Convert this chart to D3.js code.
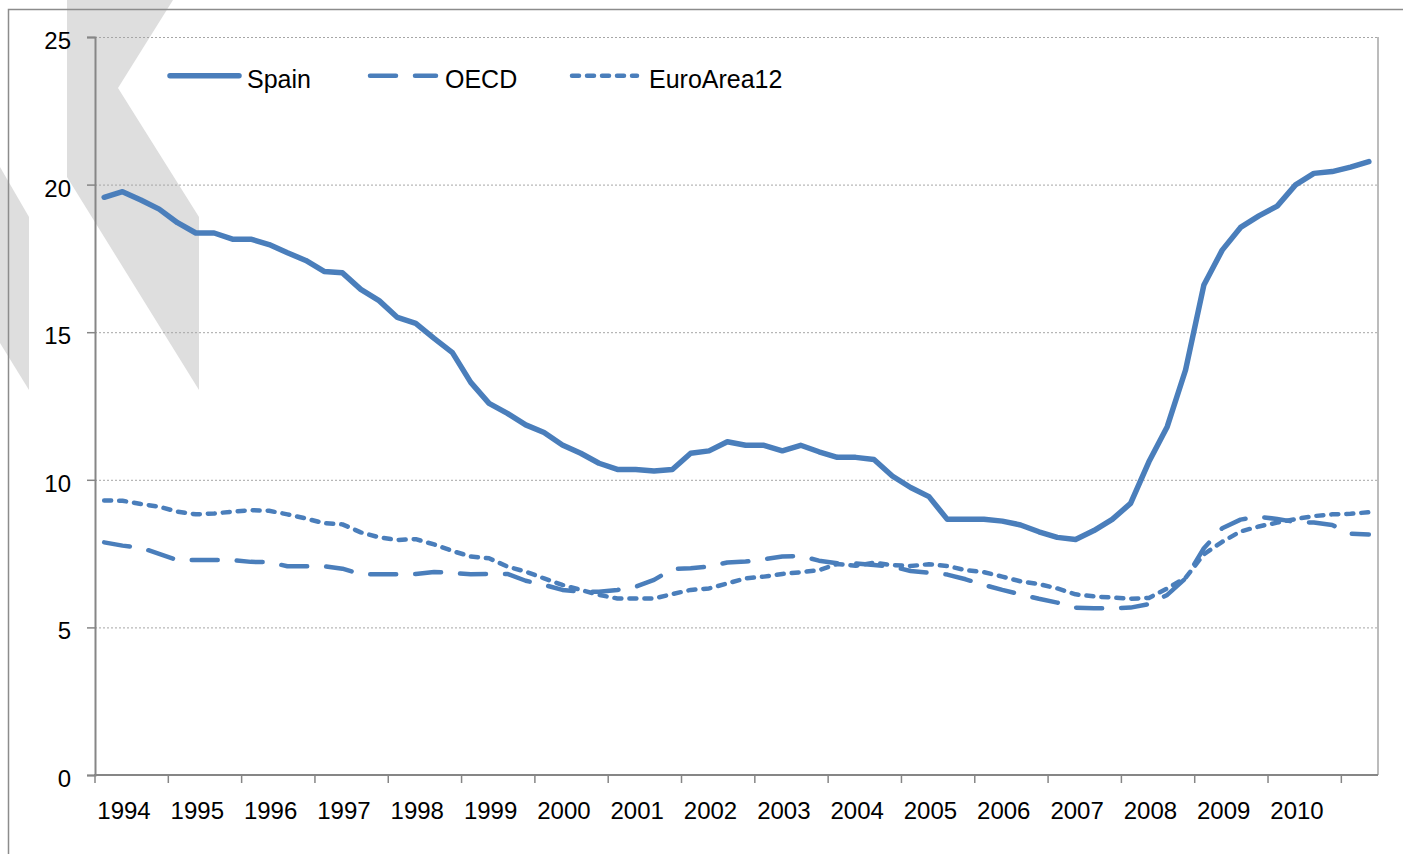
<!DOCTYPE html>
<html>
<head>
<meta charset="utf-8">
<script src="https://cdn.jsdelivr.net/npm/d3@7"></script>
<style>
  body { margin: 0; background: #fff; }
  svg { display: block; font-family: Arial, "Liberation Sans", sans-serif; }
</style>
</head>
<body>
<svg id="chart" width="1403" height="854"></svg>
<script>
// quarterly data, 1994Q1 .. 2011Q2
const firstYear = 1994;
const quarters = d3.range(70).map(i => (firstYear + Math.floor(i / 4)) + "Q" + (i % 4 + 1));
const yearLabels = ["1994","1995","1996","1997","1998","1999","2000","2001","2002",
                    "2003","2004","2005","2006","2007","2008","2009","2010"];
const yTicks = [0, 5, 10, 15, 20, 25];

const spain = [19.57,19.76,19.48,19.17,18.71,18.36,18.36,18.15,18.15,17.97,
               17.69,17.43,17.06,17.01,16.45,16.07,15.50,15.30,14.79,14.31,
               13.30,12.59,12.25,11.86,11.60,11.18,10.90,10.56,10.35,10.35,
               10.30,10.35,10.90,10.98,11.29,11.17,11.17,10.98,11.17,10.95,
               10.76,10.76,10.69,10.13,9.74,9.43,8.66,8.66,8.66,8.60,
               8.47,8.24,8.05,7.98,8.28,8.66,9.20,10.61,11.80,13.72,
               16.60,17.78,18.55,18.94,19.27,19.99,20.38,20.44,20.59,20.78];

const oecd = [7.88,7.77,7.70,7.49,7.28,7.28,7.28,7.28,7.22,7.21,
              7.07,7.07,7.07,6.99,6.80,6.80,6.80,6.81,6.88,6.84,
              6.80,6.81,6.81,6.58,6.44,6.27,6.21,6.21,6.27,6.38,
              6.61,6.98,7.00,7.06,7.20,7.23,7.31,7.40,7.42,7.26,
              7.17,7.17,7.11,7.06,6.91,6.85,6.79,6.63,6.44,6.27,
              6.12,5.97,5.84,5.67,5.65,5.65,5.67,5.79,6.10,6.66,
              7.68,8.36,8.65,8.75,8.67,8.57,8.55,8.47,8.17,8.15];

const euro12 = [9.30,9.29,9.18,9.09,8.92,8.83,8.86,8.92,8.97,8.95,
                8.83,8.69,8.53,8.49,8.22,8.05,7.96,7.99,7.81,7.59,
                7.40,7.34,7.06,6.89,6.66,6.44,6.27,6.10,5.98,5.98,
                5.98,6.13,6.27,6.32,6.49,6.66,6.72,6.81,6.87,6.94,
                7.15,7.09,7.19,7.11,7.08,7.14,7.08,6.94,6.87,6.72,
                6.56,6.47,6.32,6.12,6.05,6.01,5.97,6.00,6.32,6.68,
                7.48,7.90,8.25,8.42,8.55,8.67,8.77,8.83,8.85,8.90];

const seriesNames = ["Spain", "OECD", "EuroArea12"];

const blue = "#4a7ebb";
const axisGrey = "#868686";

const svg = d3.select("#chart");

// faint background watermark
const wm = svg.append("g").attr("fill", "#dedede");
wm.append("path").attr("d", "M67,0 L173,0 L118,88 L199,217 L199,390 L67,177 Z");
wm.append("path").attr("d", "M0,167 L29,217 L29,390 L0,343 Z");

// outer chart frame
svg.append("rect")
    .attr("x", 8.5).attr("y", 9.5)
    .attr("width", 1420).attr("height", 880)
    .attr("fill", "none")
    .attr("stroke", "#8c8c8c")
    .attr("stroke-width", 1.5);

const plot = {left: 95, right: 1378, top: 37, bottom: 775};

const x = d3.scaleBand()
    .domain(quarters)
    .range([plot.left, plot.right])
    .paddingInner(0).paddingOuter(0);

const y = d3.scaleLinear()
    .domain([0, 25])
    .range([plot.bottom, plot.top]);

const xc = i => x(quarters[i]) + x.bandwidth() / 2;

// gridlines
svg.append("g")
    .selectAll("line")
    .data(yTicks.filter(d => d > 0))
    .join("line")
    .attr("x1", plot.left).attr("x2", plot.right)
    .attr("y1", d => y(d) + 0.5).attr("y2", d => y(d) + 0.5)
    .attr("stroke", "#a6a6a6")
    .attr("stroke-width", 1)
    .attr("stroke-dasharray", "2,2");

// right border of plot area
svg.append("line")
    .attr("x1", plot.right).attr("x2", plot.right)
    .attr("y1", plot.top).attr("y2", plot.bottom)
    .attr("stroke", "#a6a6a6").attr("stroke-width", 1.5);

// y axis
const yAxis = d3.axisLeft(y).tickValues(yTicks).tickSize(8).tickPadding(16);
const gy = svg.append("g")
    .attr("transform", `translate(${plot.left},0)`)
    .call(yAxis);
gy.select(".domain").attr("stroke", axisGrey).attr("stroke-width", 2);
gy.selectAll(".tick line").attr("stroke", axisGrey).attr("stroke-width", 1.5);
gy.selectAll(".tick text")
    .attr("fill", "#000")
    .attr("font-size", 24)
    .attr("dy", null)
    .attr("y", 11.5)
    .style("font-family", "Arial, 'Liberation Sans', sans-serif");

// x axis: ticks at each year boundary, labels per year
const yearStarts = quarters.filter((q, i) => i % 4 === 0);
const gx = svg.append("g").attr("class", "x-axis");
gx.append("line")
    .attr("x1", plot.left - 1).attr("x2", plot.right)
    .attr("y1", plot.bottom).attr("y2", plot.bottom)
    .attr("stroke", axisGrey).attr("stroke-width", 2);
gx.selectAll("line.tick")
    .data(yearStarts)
    .join("line")
    .attr("class", "tick")
    .attr("x1", d => x(d)).attr("x2", d => x(d))
    .attr("y1", plot.bottom).attr("y2", plot.bottom + 8)
    .attr("stroke", axisGrey).attr("stroke-width", 1.5);
gx.selectAll("text")
    .data(yearLabels)
    .join("text")
    .attr("x", d => x(d + "Q1") + 29)
    .attr("y", 819)
    .attr("text-anchor", "middle")
    .attr("font-size", 24)
    .attr("fill", "#000")
    .text(d => d);

// series
const line = d3.line()
    .x((d, i) => xc(i))
    .y(d => y(d));

const styles = [
    {data: spain, width: 5.5, dash: null},
    {data: oecd, width: 4.5, dash: "26,19"},
    {data: euro12, width: 4.5, dash: "7,8"}
];

svg.append("g")
    .selectAll("path")
    .data(styles)
    .join("path")
    .attr("d", d => line(d.data))
    .attr("fill", "none")
    .attr("stroke", blue)
    .attr("stroke-width", d => d.width)
    .attr("stroke-linejoin", "round")
    .attr("stroke-linecap", "round")
    .attr("stroke-dasharray", d => d.dash);

// legend
const legendPos = [
    {x1: 170, x2: 239, tx: 247},
    {x1: 370, x2: 436, tx: 445},
    {x1: 572, x2: 637, tx: 649}
];
const leg = svg.append("g").attr("class", "legend");
seriesNames.forEach((name, k) => {
    const p = legendPos[k];
    leg.append("line")
        .attr("x1", p.x1).attr("x2", p.x2)
        .attr("y1", 75.7).attr("y2", 75.7)
        .attr("stroke", blue)
        .attr("stroke-width", styles[k].width)
        .attr("stroke-linecap", "round")
        .attr("stroke-dasharray", styles[k].dash);
    leg.append("text")
        .attr("x", p.tx).attr("y", 87.5)
        .attr("font-size", 25)
        .attr("fill", "#000")
        .text(name);
});
</script>
</body>
</html>
